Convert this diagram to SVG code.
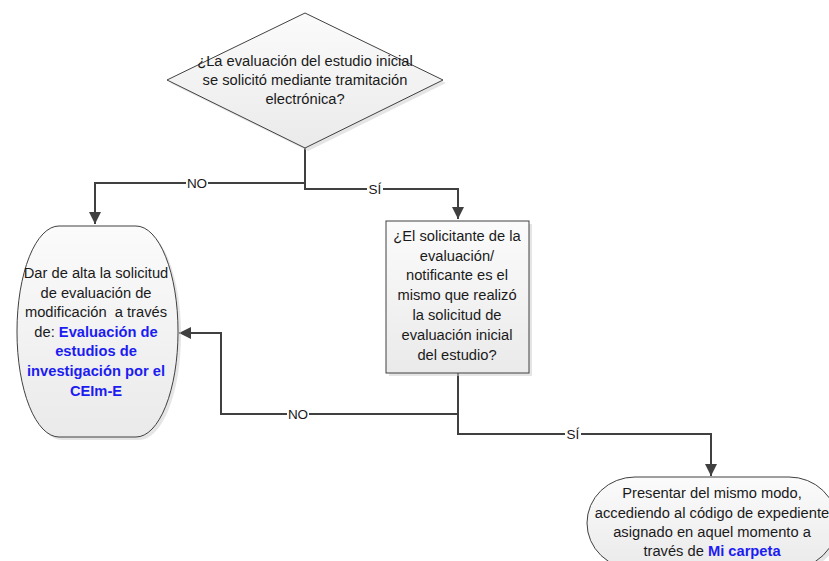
<svg xmlns="http://www.w3.org/2000/svg" width="829" height="561" viewBox="0 0 829 561">
<style>
  .shape { stroke: #404040; stroke-width: 1; }
  .shadow { fill: #cfcfcf; opacity: 0.55; }
  .txt { font-family: "Liberation Sans", Arial, sans-serif; font-size: 14.7px; fill: #1a1a1a; text-anchor: middle; }
  .link { font-weight: bold; fill: #1c1cf2; }
  .conn { fill: none; stroke: #404040; stroke-width: 2; }
  .lbl { font-family: "Liberation Sans", Arial, sans-serif; font-size: 13.5px; fill: #1a1a1a; text-anchor: middle; }
  .lblbg { fill: #ffffff; }
</style>
<defs>
  <linearGradient id="g" x1="0" y1="0" x2="0" y2="1">
    <stop offset="0" stop-color="#fbfbfb"/>
    <stop offset="1" stop-color="#eaeaea"/>
  </linearGradient>
  <marker id="arr" markerUnits="userSpaceOnUse" markerWidth="13" markerHeight="12" refX="12" refY="6" orient="auto">
    <path d="M0,0 L12,6 L0,12 z" fill="#404040"/>
  </marker>
</defs>
<rect width="829" height="561" fill="#ffffff"/>

<g id="connectors">
  <path class="conn" d="M305,148 V183 H95 V224" marker-end="url(#arr)"/>
  <path class="conn" d="M305,183 V189 H458 V219" marker-end="url(#arr)"/>
  <path class="conn" d="M458,372 V414 H221 V333 H179" marker-end="url(#arr)"/>
  <path class="conn" d="M458,414 V434 H711 V476" marker-end="url(#arr)"/>
  <rect class="lblbg" x="186" y="175" width="22" height="16"/>
  <text class="lbl" x="197" y="188">NO</text>
  <rect class="lblbg" x="367" y="181" width="16" height="16"/>
  <text class="lbl" x="375" y="194">SÍ</text>
  <rect class="lblbg" x="287" y="406" width="22" height="16"/>
  <text class="lbl" x="298" y="419">NO</text>
  <rect class="lblbg" x="565" y="426" width="16" height="16"/>
  <text class="lbl" x="573" y="439">SÍ</text>
</g>

<g id="decision1">
  <polygon class="shadow" points="308,16 446,83 308,151 170,83"/>
  <polygon class="shape" fill="url(#g)" points="305,13 443,80 305,148 167,80"/>
  <text class="txt" x="305" y="66">¿La evaluación del estudio inicial</text>
  <text class="txt" x="305" y="85">se solicitó mediante tramitación</text>
  <text class="txt" x="305" y="104">electrónica?</text>
</g>

<g id="alta">
  <rect class="shadow" x="20" y="229" width="161" height="211" rx="42" ry="105"/>
  <rect class="shape" fill="url(#g)" x="17" y="226" width="161" height="211" rx="42" ry="105"/>
  <text class="txt" x="96" y="278">Dar de alta la solicitud</text>
  <text class="txt" x="96" y="298">de evaluación de</text>
  <text class="txt" x="96" y="317">modificación&#160; a través</text>
  <text class="txt" x="96" y="337">de: <tspan class="link">Evaluación de</tspan></text>
  <text class="txt link" x="96" y="356">estudios de</text>
  <text class="txt link" x="96" y="376">investigación por el</text>
  <text class="txt link" x="96" y="396">CEIm-E</text>
</g>

<g id="decision2">
  <rect class="shadow" x="389" y="224" width="143" height="152"/>
  <rect class="shape" fill="url(#g)" x="386" y="221" width="143" height="152"/>
  <text class="txt" x="457" y="241">¿El solicitante de la</text>
  <text class="txt" x="457" y="261">evaluación/</text>
  <text class="txt" x="457" y="280">notificante es el</text>
  <text class="txt" x="457" y="300">mismo que realizó</text>
  <text class="txt" x="457" y="320">la solicitud de</text>
  <text class="txt" x="457" y="340">evaluación inicial</text>
  <text class="txt" x="457" y="360">del estudio?</text>
</g>

<g id="presentar">
  <rect class="shadow" x="590" y="480" width="250" height="92" rx="48" ry="46"/>
  <rect class="shape" fill="url(#g)" x="587" y="477" width="250" height="92" rx="48" ry="46"/>
  <text class="txt" x="712" y="498">Presentar del mismo modo,</text>
  <text class="txt" x="712" y="518">accediendo al código de expediente</text>
  <text class="txt" x="712" y="537">asignado en aquel momento a</text>
  <text class="txt" x="712" y="556">través de <tspan class="link">Mi carpeta</tspan></text>
</g>
</svg>
